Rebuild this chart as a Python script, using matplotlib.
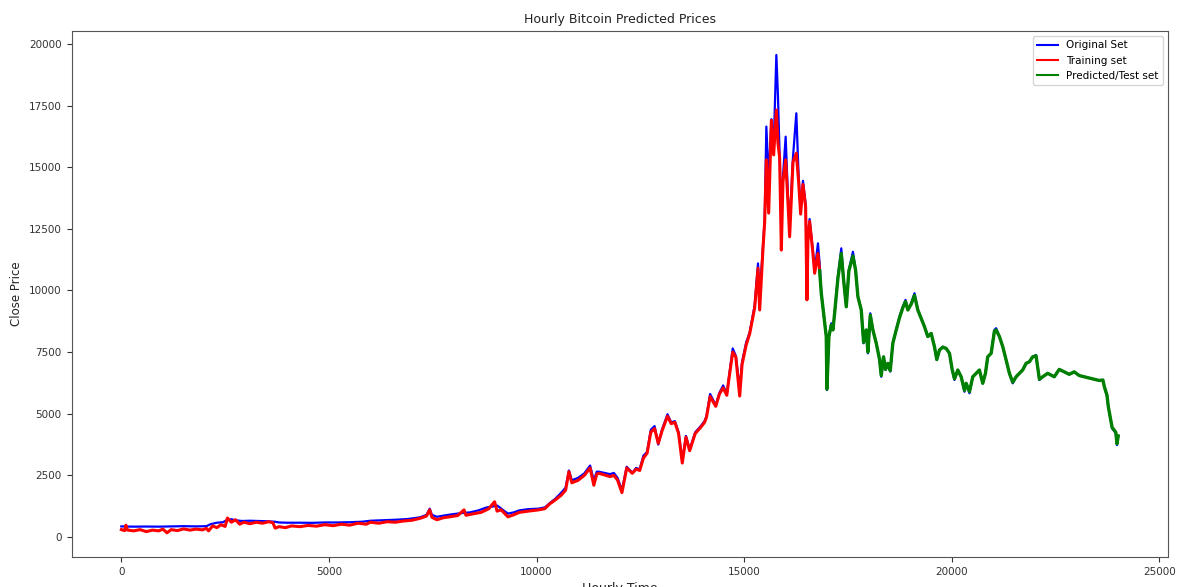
import matplotlib
matplotlib.use("Agg")
import matplotlib.pyplot as plt

# Original close prices (hour index, USD)
orig_hours = [
    0, 300, 600, 900, 1200, 1500, 1800, 2050, 2150, 2300, 2450, 2550, 2650, 2750,
    2900, 3100, 3300, 3500, 3700, 3800, 4000, 4300, 4600, 4900, 5200, 5500, 5800,
    6000, 6300, 6600, 6900, 7200, 7350, 7427, 7480, 7600, 7800, 8000, 8200, 8400,
    8600, 8800, 8950, 9050, 9150, 9311, 9450, 9585, 9800, 10045, 10200, 10322,
    10450, 10596, 10700, 10780, 10850, 11000, 11150, 11290, 11380, 11450, 11503,
    11770, 11861, 11951, 12057, 12172, 12307, 12396, 12485, 12574, 12663, 12752,
    12843, 12932, 13021, 13154, 13243, 13332, 13421, 13510, 13599, 13688, 13822,
    13955, 14046, 14092, 14181, 14316, 14405, 14494, 14583, 14628, 14725, 14800,
    14893, 14950, 15050, 15134, 15254, 15334, 15374, 15454, 15495, 15535, 15591,
    15656, 15711, 15776, 15815, 15855, 15896, 15935, 16000, 16055, 16096, 16176,
    16257, 16313, 16361, 16417, 16481, 16513, 16537, 16577, 16657, 16698, 16778,
    16818, 16858, 16914, 16978, 16994, 17042, 17099, 17139, 17179, 17259, 17340,
    17396, 17460, 17523, 17620, 17684, 17740, 17821, 17877, 17941, 17981, 18038,
    18101, 18182, 18262, 18302, 18358, 18406, 18461, 18519, 18581, 18663, 18743,
    18822, 18887, 18943, 19024, 19103, 19183, 19264, 19344, 19424, 19505, 19584,
    19640, 19705, 19785, 19866, 19946, 20010, 20066, 20146, 20227, 20307, 20348,
    20427, 20507, 20588, 20667, 20747, 20812, 20867, 20949, 21028, 21069, 21149,
    21229, 21310, 21389, 21469, 21550, 21630, 21709, 21791, 21871, 21950, 22031,
    22111, 22191, 22311, 22470, 22590, 22710, 22830, 22950, 23070, 23190, 23310,
    23430, 23550, 23640, 23675, 23740, 23770, 23862, 23951, 23980, 24010,
]
orig_close = [
    430, 420, 425, 420, 430, 440, 430, 440, 520, 580, 600, 700, 720, 680,
    650, 660, 650, 640, 620, 590, 580, 580, 575, 590, 590, 600, 620,
    660, 680, 700, 730, 800, 900, 1150, 900, 820, 880, 930, 970, 1000,
    1080, 1200, 1240, 1280, 1150, 950, 1000, 1080, 1130, 1150, 1200, 1380,
    1550, 1800, 2000, 2700, 2300, 2400, 2580, 2900, 2300, 2650, 2650,
    2550, 2600, 2400, 1900, 2850, 2600, 2800, 2750, 3300, 3450, 4350,
    4500, 3750, 4350, 4980, 4650, 4700, 4250, 3100, 4100, 3550, 4250,
    4500, 4700, 4900, 5800, 5350, 5850, 6150, 5800, 6400, 7650, 7350,
    6000, 7100, 7900, 8300, 9400, 11100, 9800, 11800, 12900, 16650, 14500,
    16950, 15800, 19555, 17880, 15500, 13000, 14600, 16240, 13800, 12600, 15400,
    17190, 14600, 13300, 14450, 13500, 11000, 12200, 12900, 11600, 10800, 11915,
    11100, 9890, 9075, 8130, 5960, 8130, 8670, 8400, 9075, 10560, 11710,
    10430, 9340, 10830, 11570, 10830, 9750, 9210, 7860, 8400, 7450, 9075,
    8400, 7860, 7180, 6500, 7310, 6775, 7045, 6710, 7860, 8400, 8940,
    9340, 9620, 9210, 9480, 9890, 9210, 8870, 8530, 8130, 8260, 7720,
    7180, 7590, 7720, 7650, 7450, 6775, 6370, 6775, 6500, 5895, 6235,
    5830, 6500, 6640, 6775, 6235, 6640, 7310, 7450, 8400, 8470, 8130,
    7720, 7180, 6640, 6235, 6500, 6640, 6775, 7045, 7110, 7310, 7380,
    6370, 6500, 6640, 6500, 6800, 6700, 6600, 6700, 6550, 6500, 6450,
    6400, 6350, 6370, 6100, 5690, 5290, 4410, 4210, 3730, 4100,
]

# Model output on the training window
train_hours = [
    0, 80, 110, 150, 300, 450, 600, 750, 900, 1000, 1100, 1200, 1350, 1500, 1650,
    1800, 1950, 2050, 2100, 2200, 2300, 2400, 2500, 2555, 2650, 2750, 2850, 2950,
    3100, 3250, 3400, 3550, 3650, 3705, 3800, 3950, 4100, 4300, 4500, 4700, 4900,
    5100, 5300, 5500, 5700, 5900, 6000, 6200, 6400, 6600, 6800, 7000, 7200, 7350,
    7427, 7480, 7600, 7750, 7900, 8100, 8253, 8300, 8500, 8666, 8851, 8989, 9050,
    9150, 9311, 9450, 9585, 9800, 10045, 10200, 10322, 10450, 10596, 10700, 10780,
    10850, 11000, 11150, 11290, 11380, 11450, 11503, 11770, 11861, 11951, 12057,
    12172, 12307, 12396, 12485, 12574, 12663, 12752, 12843, 12932, 13021, 13154,
    13243, 13332, 13421, 13510, 13599, 13688, 13822, 13955, 14046, 14092, 14181,
    14316, 14405, 14494, 14583, 14628, 14725, 14800, 14893, 14950, 15050, 15134,
    15254, 15334, 15374, 15454, 15495, 15535, 15591, 15656, 15711, 15776, 15815,
    15855, 15896, 15935, 16000, 16055, 16096, 16176, 16257, 16313, 16361, 16417,
    16481, 16513, 16537, 16577, 16657, 16698, 16778, 16818,
]
train_pred = [
    300, 260, 480, 280, 250, 300, 220, 280, 250, 320, 170, 300, 260, 330, 280,
    320, 290, 350, 250, 450, 380, 500, 430, 770, 600, 700, 520, 600,
    540, 600, 560, 620, 580, 360, 420, 380, 450, 420, 470, 440, 500,
    460, 520, 480, 560, 520, 600, 560, 620, 600, 650, 680, 760, 850,
    1100, 800, 700, 780, 820, 870, 1100, 880, 950, 1000, 1150, 1430, 1050,
    1100, 820, 900, 1000, 1050, 1100, 1150, 1350, 1500, 1700, 1900, 2650,
    2200, 2300, 2500, 2800, 2100, 2550, 2585, 2450, 2500, 2310, 1800,
    2800, 2585, 2750, 2700, 3200, 3400, 4250, 4400, 3800, 4300, 4900,
    4600, 4650, 4200, 3000, 4050, 3500, 4200, 4450, 4650, 4850, 5700,
    5300, 5800, 6050, 5750, 6350, 7500, 7300, 5720, 7000, 7800, 8250,
    9300, 10900, 9210, 11700, 12800, 15300, 13140, 16900, 15500, 17320, 15970,
    15400, 11640, 14400, 15300, 13600, 12180, 15200, 15570, 14400, 13100, 14300,
    13400, 9620, 12000, 12800, 11500, 10700, 11500, 10800,
]

# Model output on the held-out window
test_hours = [
    16818, 16858, 16914, 16978, 16994, 17042, 17099, 17139, 17179, 17259, 17340,
    17396, 17460, 17523, 17620, 17684, 17740, 17821, 17877, 17941, 17981, 18038,
    18101, 18182, 18262, 18302, 18358, 18406, 18461, 18519, 18581, 18663, 18743,
    18822, 18887, 18943, 19024, 19103, 19183, 19264, 19344, 19424, 19505, 19584,
    19640, 19705, 19785, 19866, 19946, 20010, 20066, 20146, 20227, 20307, 20348,
    20427, 20507, 20588, 20667, 20747, 20812, 20867, 20949, 21028, 21069, 21149,
    21229, 21310, 21389, 21469, 21550, 21630, 21709, 21791, 21871, 21950, 22031,
    22111, 22191, 22311, 22470, 22590, 22710, 22830, 22950, 23070, 23190, 23310,
    23430, 23550, 23640, 23675, 23740, 23770, 23862, 23951, 23980, 24010,
]
test_pred = [
    10800, 9890, 9075, 8130, 6000, 8130, 8600, 8400, 9075, 10500, 11500,
    10430, 9340, 10800, 11400, 10830, 9750, 9210, 7900, 8400, 7500, 9000,
    8400, 7860, 7200, 6550, 7310, 6800, 7045, 6750, 7860, 8400, 8900,
    9300, 9550, 9210, 9450, 9800, 9210, 8870, 8530, 8130, 8260, 7720,
    7200, 7590, 7700, 7650, 7450, 6800, 6420, 6775, 6500, 5950, 6235,
    5900, 6500, 6640, 6775, 6235, 6640, 7310, 7450, 8350, 8400, 8130,
    7720, 7180, 6640, 6280, 6500, 6640, 6775, 7045, 7110, 7310, 7350,
    6400, 6500, 6640, 6500, 6800, 6700, 6600, 6700, 6550, 6500, 6450,
    6400, 6350, 6370, 6100, 5750, 5300, 4450, 4250, 3780, 4100,
]

fig = plt.figure(figsize=(11.82, 5.87), dpi=100)
ax = fig.add_axes([0.0605, 0.0511, 0.9277, 0.8961])

ax.plot(orig_hours, orig_close, color="blue", lw=1.6, label="Original Set")
ax.plot(train_hours, train_pred, color="red", lw=2.2, label="Training set")
ax.plot(test_hours, test_pred, color="green", lw=2.4, label="Predicted/Test set")

ax.set_xlim(-1200, 25210)
ax.set_ylim(-811, 20527)
ax.set_xticks([0, 5000, 10000, 15000, 20000, 25000])
ax.set_yticks([0, 2500, 5000, 7500, 10000, 12500, 15000, 17500, 20000])

ax.tick_params(labelsize=7.5, colors="#333333")
for sp in ax.spines.values():
    sp.set_color("#555555")

ax.set_title("Hourly Bitcoin Predicted Prices", fontsize=9, color="#222222")
ax.set_xlabel("Hourly Time", fontsize=9, color="#222222")
ax.set_ylabel("Close Price", fontsize=8.5, color="#222222")

leg = ax.legend(loc="upper right", fontsize=7.5)
for line in leg.get_lines():
    line.set_linewidth(1.5)

fig.savefig("out.png", dpi=100)
